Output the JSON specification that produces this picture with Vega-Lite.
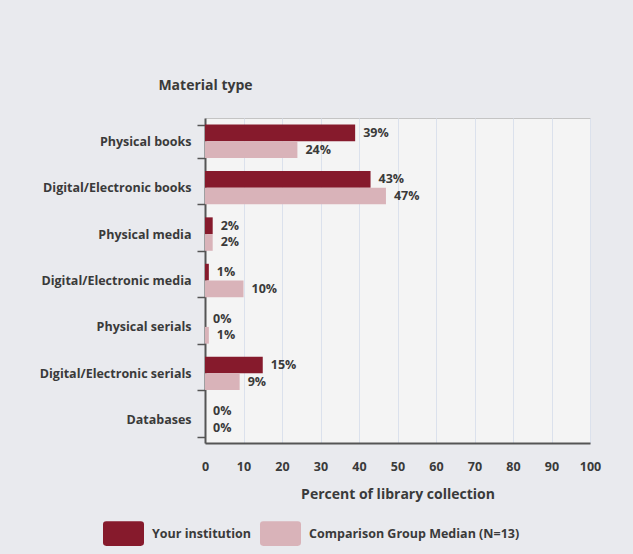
{
  "$schema": "https://vega.github.io/schema/vega-lite/v6.json",
  "autosize": "none",
  "width": 385,
  "height": 325,
  "padding": {"left": 205, "top": 118, "right": 43, "bottom": 111},
  "background": "#e9eaee",
  "config": {
    "font": "Open Sans",
    "view": {"fill": "#f4f4f4", "stroke": "#c4c4c4", "strokeWidth": 1},
    "axis": {"labelFont": "Open Sans", "titleFont": "Open Sans", "labelFontWeight": "bold", "titleFontWeight": "bold", "labelColor": "#3a3a3a", "titleColor": "#3a3a3a"}
  },
  "data": {
    "values": [
      {"type": "Physical books", "group": "Your institution", "value": 39, "label": "39%"},
      {"type": "Physical books", "group": "Comparison Group Median (N=13)", "value": 24, "label": "24%"},
      {"type": "Digital/Electronic books", "group": "Your institution", "value": 43, "label": "43%"},
      {"type": "Digital/Electronic books", "group": "Comparison Group Median (N=13)", "value": 47, "label": "47%"},
      {"type": "Physical media", "group": "Your institution", "value": 2, "label": "2%"},
      {"type": "Physical media", "group": "Comparison Group Median (N=13)", "value": 2, "label": "2%"},
      {"type": "Digital/Electronic media", "group": "Your institution", "value": 1, "label": "1%"},
      {"type": "Digital/Electronic media", "group": "Comparison Group Median (N=13)", "value": 10, "label": "10%"},
      {"type": "Physical serials", "group": "Your institution", "value": 0, "label": "0%"},
      {"type": "Physical serials", "group": "Comparison Group Median (N=13)", "value": 1, "label": "1%"},
      {"type": "Digital/Electronic serials", "group": "Your institution", "value": 15, "label": "15%"},
      {"type": "Digital/Electronic serials", "group": "Comparison Group Median (N=13)", "value": 9, "label": "9%"},
      {"type": "Databases", "group": "Your institution", "value": 0, "label": "0%"},
      {"type": "Databases", "group": "Comparison Group Median (N=13)", "value": 0, "label": "0%"}
    ]
  },
  "encoding": {
    "y": {
      "field": "type", "type": "nominal",
      "sort": ["Physical books", "Digital/Electronic books", "Physical media", "Digital/Electronic media", "Physical serials", "Digital/Electronic serials", "Databases"],
      "scale": {"paddingInner": 0.28, "paddingOuter": 0.14},
      "axis": {
        "title": "Material type", "titleAngle": 0, "titleAlign": "center", "titleBaseline": "alphabetic",
        "titleX": 0, "titleY": -29, "titleFontSize": 14,
        "labelFontSize": 12.5, "labelPadding": 6, "labelLimit": 300, "tickBand": "extent", "tickSize": 8, "tickColor": "#555555", "tickWidth": 1.5,
        "domainColor": "#555555", "domainWidth": 2, "grid": false
      }
    },
    "yOffset": {
      "field": "group", "type": "nominal",
      "sort": ["Your institution", "Comparison Group Median (N=13)"]
    },
    "x": {
      "field": "value", "type": "quantitative",
      "scale": {"domain": [0, 100]},
      "axis": {
        "title": "Percent of library collection", "titleFontSize": 14, "titlePadding": 15,
        "values": [0, 10, 20, 30, 40, 50, 60, 70, 80, 90, 100],
        "labelFontSize": 12.5, "labelPadding": 17, "labelFlush": false, "ticks": false,
        "domainColor": "#555555", "domainWidth": 2,
        "grid": true, "gridColor": "#dbe1ec", "gridWidth": 1
      }
    }
  },
  "layer": [
    {
      "mark": {"type": "bar", "strokeWidth": 0},
      "encoding": {
        "color": {
          "field": "group", "type": "nominal",
          "scale": {"domain": ["Your institution", "Comparison Group Median (N=13)"], "range": ["#861a2c", "#d9b3b9"]},
          "legend": {
            "title": null, "orient": "none", "direction": "horizontal",
            "legendX": -102, "legendY": 395,
            "symbolType": "M-0.84,-0.6H0.84Q1,-0.6 1,-0.44V0.44Q1,0.6 0.84,0.6H-0.84Q-1,0.6 -1,0.44V-0.44Q-1,-0.6 -0.84,-0.6Z",
            "symbolSize": 1681, "symbolStrokeWidth": 0,
            "labelFont": "Open Sans", "labelFontWeight": "bold", "labelFontSize": 12.5, "labelColor": "#3a3a3a", "labelLimit": 400,
            "columnPadding": 9, "labelOffset": 8
          }
        }
      }
    },
    {
      "mark": {"type": "text", "align": "left", "baseline": "middle", "dx": 8, "font": "Open Sans", "fontWeight": "bold", "fontSize": 12.5, "color": "#3a3a3a"},
      "encoding": {"text": {"field": "label"}}
    }
  ]
}
